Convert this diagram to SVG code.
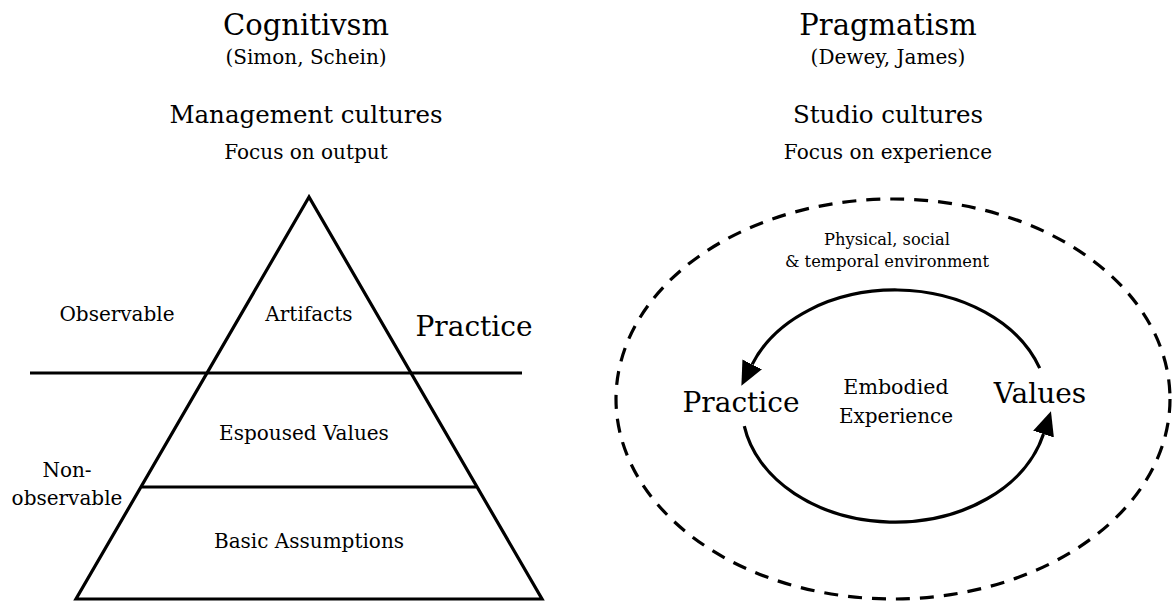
<svg xmlns="http://www.w3.org/2000/svg" width="1173" height="604" viewBox="0 0 1173 604">
<style>
text{font-family:"DejaVu Serif","Liberation Serif",serif;fill:#000;text-anchor:middle}
.t1{font-size:29px}
.t2{font-size:20px}
.t3{font-size:24.5px}
.big{font-size:28px}
.sm{font-size:16.3px}
.ln{stroke:#000;stroke-width:3.2;fill:none}
.dash{stroke:#000;stroke-width:3.2;fill:none;stroke-dasharray:14 10}
</style>
<defs>
<marker id="ah" markerUnits="userSpaceOnUse" markerWidth="25" markerHeight="24" viewBox="0 -11 24 22" refX="0" refY="0" orient="auto">
<path d="M0,-10.5 L23,0 L0,10.5 Z" fill="#000"/>
</marker>
</defs>
<rect width="1173" height="604" fill="#fff"/>
<g id="left-titles">
<text class="t1" x="306" y="35">Cognitivsm</text>
<text class="t2" x="306" y="64">(Simon, Schein)</text>
<text class="t3" x="306" y="123">Management cultures</text>
<text class="t2" x="306" y="159">Focus on output</text>
</g>
<g id="right-titles">
<text class="t1" x="888" y="35">Pragmatism</text>
<text class="t2" x="888" y="64">(Dewey, James)</text>
<text class="t3" x="888" y="123">Studio cultures</text>
<text class="t2" x="888" y="159">Focus on experience</text>
</g>
<g id="pyramid">
<path class="ln" d="M309,197 L76,599 L542,599 Z" stroke-linejoin="miter"/>
<line class="ln" x1="30" y1="373" x2="522" y2="373"/>
<line class="ln" x1="142" y1="487" x2="476" y2="487"/>
</g>
<g id="artifacts"><text class="t2" x="309" y="321">Artifacts</text></g>
<g id="espoused-values"><text class="t2" x="304" y="440">Espoused Values</text></g>
<g id="basic-assumptions"><text class="t2" x="309" y="548">Basic Assumptions</text></g>
<g id="observable"><text class="t2" x="117" y="321">Observable</text></g>
<g id="non-observable">
<text class="t2" x="67" y="477">Non-</text>
<text class="t2" x="67" y="505">observable</text>
</g>
<g id="practice-left"><text class="big" x="474" y="336">Practice</text></g>
<g id="environment">
<ellipse class="dash" cx="893" cy="399" rx="277" ry="200"/>
<text class="sm" x="887" y="245">Physical, social</text>
<text class="sm" x="887" y="267">&amp; temporal environment</text>
</g>
<g id="practice-right"><text class="big" x="741" y="412">Practice</text></g>
<g id="values"><text class="big" x="1040" y="403">Values</text></g>
<g id="embodied-experience">
<text class="t2" x="896" y="394" style="font-size:20.6px">Embodied</text>
<text class="t2" x="896" y="423">Experience</text>
</g>
<g id="connectors">
<path class="ln" d="M1039.7,368.2 A153,116 0 0 0 752.2,364.4" marker-end="url(#ah)"/>
<path class="ln" d="M744.3,426.1 A153,116 0 0 0 1043.5,434.1" marker-end="url(#ah)"/>
</g>
</svg>
